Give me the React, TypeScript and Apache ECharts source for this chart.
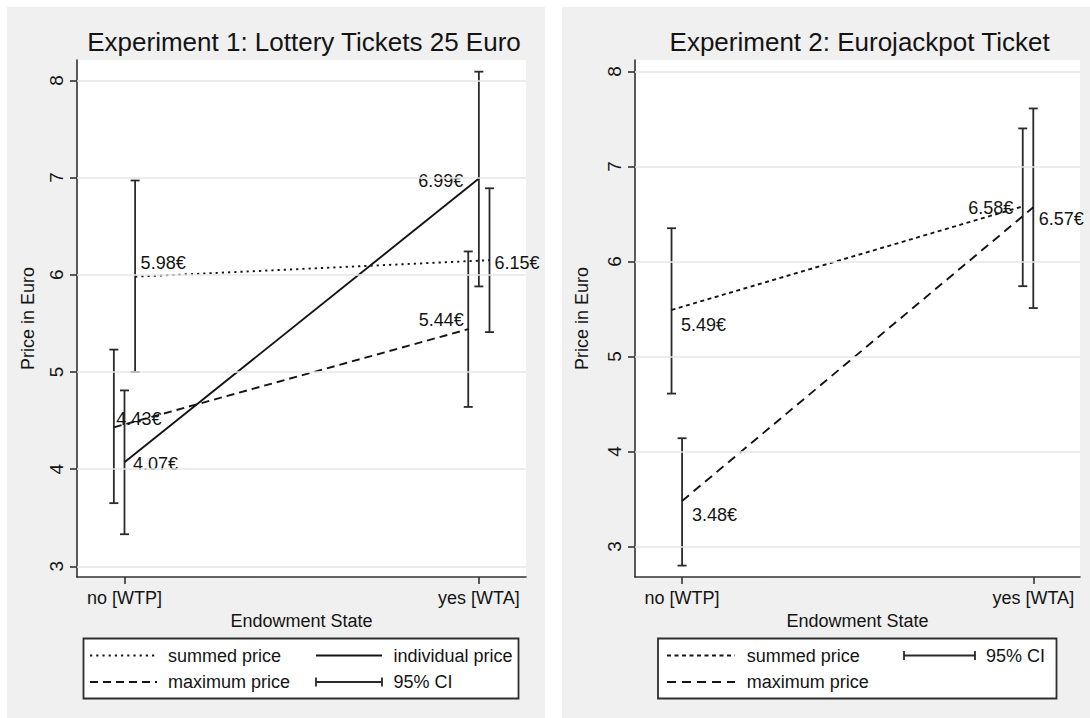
import React, { useEffect, useRef } from 'react';
import * as echarts from 'echarts';

// Endowment states on the x axis
const CATEGORIES = ['no [WTP]', 'yes [WTA]'];
const Y_TICKS = [3, 4, 5, 6, 7, 8];

// Experiment 1: Lottery Tickets 25 Euro (mean prices and 95% CI [low, high])
const EXP1_SUMMED = [5.98, 6.15];
const EXP1_INDIVIDUAL = [4.07, 6.99];
const EXP1_MAXIMUM = [4.43, 5.44];
const EXP1_SUMMED_CI = [[5.0, 6.97], [5.41, 6.89]];
const EXP1_INDIVIDUAL_CI = [[3.33, 4.81], [5.88, 8.09]];
const EXP1_MAXIMUM_CI = [[3.65, 5.23], [4.64, 6.24]];

// Experiment 2: Eurojackpot Ticket
const EXP2_SUMMED = [5.49, 6.58];
const EXP2_MAXIMUM = [3.48, 6.57];
const EXP2_SUMMED_CI = [[4.61, 6.35], [5.74, 7.4]];
const EXP2_MAXIMUM_CI = [[2.8, 4.14], [5.51, 7.61]];

const FONT = '"Liberation Sans", Arial, Helvetica, sans-serif';
const INK = '#141414';
const AXIS_INK = '#333333';
const BAR_INK = '#2a2a2a';
const PANEL = '#f0f0f0';

type Place = { position: 'left' | 'right'; distance: number; dy: number };

// horizontal nudge (in x units) so the bars of a state don't overlap
const SHIFT = 0.03;

function meanSeries(
  name: string,
  values: number[],
  idx: number,
  shift: number,
  dash: any,
  places: Place[]
) {
  return {
    type: 'line',
    name,
    xAxisIndex: idx,
    yAxisIndex: idx,
    data: values.map((v, i) => ({
      value: [i + shift, v],
      label: {
        position: places[i].position,
        distance: places[i].distance,
        offset: [0, places[i].dy],
      },
    })),
    symbol: 'circle',
    symbolSize: 1,
    itemStyle: { color: 'rgba(0,0,0,0)' },
    lineStyle: { color: INK, width: 1.9, type: dash },
    label: {
      show: true,
      formatter: (p: any) => p.value[1].toFixed(2) + '€',
      fontFamily: FONT,
      fontSize: 18,
      color: INK,
    },
    silent: true,
    z: 3,
  };
}

function ciSeries(intervals: number[][], idx: number, shift: number) {
  return {
    type: 'custom',
    xAxisIndex: idx,
    yAxisIndex: idx,
    data: intervals.map((c, i) => [i + shift, c[0], c[1]]),
    encode: { x: 0, y: [1, 2] },
    silent: true,
    z: 2,
    renderItem: (_params: any, api: any) => {
      const x = api.value(0);
      const lo = api.coord([x, api.value(1)]);
      const hi = api.coord([x, api.value(2)]);
      const half = 4.5;
      const style = { stroke: BAR_INK, lineWidth: 1.8 };
      return {
        type: 'group',
        children: [
          { type: 'line', shape: { x1: lo[0], y1: lo[1], x2: hi[0], y2: hi[1] }, style },
          { type: 'line', shape: { x1: lo[0] - half, y1: lo[1], x2: lo[0] + half, y2: lo[1] }, style },
          { type: 'line', shape: { x1: hi[0] - half, y1: hi[1], x2: hi[0] + half, y2: hi[1] }, style },
        ],
      };
    },
  };
}

function gridLines(idx: number) {
  return {
    type: 'line',
    xAxisIndex: idx,
    yAxisIndex: idx,
    data: [],
    silent: true,
    z: 1,
    markLine: {
      silent: true,
      symbol: 'none',
      label: { show: false },
      lineStyle: { color: '#e6e6e6', width: 1.5, type: 'solid' },
      data: Y_TICKS.map((v) => ({ yAxis: v })),
    },
  };
}

const axisLineStyle = { color: AXIS_INK, width: 1.6 };

function xAxis(idx: number) {
  return {
    gridIndex: idx,
    type: 'value',
    min: -0.134,
    max: 1.133,
    axisLine: { show: true, onZero: false, lineStyle: axisLineStyle },
    axisTick: { show: true, customValues: [0, 1], length: 7, lineStyle: axisLineStyle },
    axisLabel: {
      customValues: [0, 1],
      formatter: (v: number) => CATEGORIES[Math.round(v)] ?? '',
      fontFamily: FONT,
      fontSize: 18,
      color: INK,
      margin: 12,
    },
    splitLine: { show: false },
    name: 'Endowment State',
    nameLocation: 'middle',
    nameGap: 31,
    nameTextStyle: { fontFamily: FONT, fontSize: 18, color: INK },
  };
}

function yAxis(idx: number, min: number, max: number, nameGap: number) {
  return {
    gridIndex: idx,
    type: 'value',
    min,
    max,
    axisLine: { show: true, onZero: false, lineStyle: axisLineStyle },
    axisTick: { show: true, customValues: Y_TICKS, length: 7, lineStyle: axisLineStyle },
    axisLabel: {
      customValues: Y_TICKS,
      rotate: 90,
      fontFamily: FONT,
      fontSize: 19,
      color: INK,
      margin: 11,
    },
    splitLine: { show: false },
    name: 'Price in Euro',
    nameLocation: 'middle',
    nameRotate: 90,
    nameGap,
    nameTextStyle: { fontFamily: FONT, fontSize: 18, color: INK },
  };
}

function text(x: number, y: number, t: string, size = 18) {
  return {
    type: 'text',
    x,
    y,
    style: {
      text: t,
      font: `${size}px ${FONT}`,
      fill: INK,
      align: 'left',
      verticalAlign: 'middle',
    },
  };
}

function titleText(x: number, y: number, t: string) {
  return {
    type: 'text',
    x,
    y,
    style: {
      text: t,
      font: `26px ${FONT}`,
      fill: INK,
      align: 'center',
      verticalAlign: 'middle',
    },
  };
}

function sample(x1: number, x2: number, y: number, dash: number[] | null) {
  return {
    type: 'line',
    shape: { x1, y1: y, x2, y2: y },
    style: { stroke: INK, lineWidth: 1.8, lineDash: dash ?? undefined },
  };
}

function ciSample(x1: number, x2: number, y: number) {
  const style = { stroke: BAR_INK, lineWidth: 1.8 };
  return {
    type: 'group',
    children: [
      { type: 'line', shape: { x1, y1: y, x2, y2: y }, style },
      { type: 'line', shape: { x1, y1: y - 4.5, x2: x1, y2: y + 4.5 }, style },
      { type: 'line', shape: { x1: x2, y1: y - 4.5, x2, y2: y + 4.5 }, style },
    ],
  };
}

const boxStyle = { fill: '#ffffff', stroke: '#2e2e2e', lineWidth: 1.8 };

export default function App() {
  const ref = useRef<HTMLDivElement>(null);

  useEffect(() => {
    if (!ref.current) return;
    const chart = echarts.init(ref.current, undefined, { renderer: 'svg' });

    const dotted = [2.2, 4];
    const dashedL = [8, 5];
    const shortDash = [4, 3.5];
    const longDash = [9, 6];

    chart.setOption({
      animation: false,
      backgroundColor: '#ffffff',
      grid: [
        { left: 77, top: 60, width: 449, height: 517, show: true, backgroundColor: '#ffffff', borderWidth: 0, containLabel: false, outerBoundsMode: 'none' },
        { left: 635, top: 60, width: 445, height: 517, show: true, backgroundColor: '#ffffff', borderWidth: 0, containLabel: false, outerBoundsMode: 'none' },
      ],
      xAxis: [xAxis(0), xAxis(1)],
      yAxis: [yAxis(0, 2.89, 8.21, 40), yAxis(1, 2.68, 8.12, 44)],
      series: [
        gridLines(0),
        gridLines(1),
        ciSeries(EXP1_MAXIMUM_CI, 0, -SHIFT),
        ciSeries(EXP1_INDIVIDUAL_CI, 0, 0),
        ciSeries(EXP1_SUMMED_CI, 0, SHIFT),
        meanSeries('summed price', EXP1_SUMMED, 0, SHIFT, dotted, [
          { position: 'right', distance: 5, dy: -13.5 },
          { position: 'right', distance: 4.5, dy: 2.5 },
        ]),
        meanSeries('individual price', EXP1_INDIVIDUAL, 0, 0, 'solid', [
          { position: 'right', distance: 8, dy: 2 },
          { position: 'left', distance: 15, dy: 2 },
        ]),
        meanSeries('maximum price', EXP1_MAXIMUM, 0, -SHIFT, dashedL, [
          { position: 'right', distance: 2, dy: -8.7 },
          { position: 'left', distance: 4, dy: -9 },
        ]),
        ciSeries(EXP2_SUMMED_CI, 1, -SHIFT),
        ciSeries(EXP2_MAXIMUM_CI, 1, 0),
        meanSeries('summed price', EXP2_SUMMED, 1, -SHIFT, shortDash, [
          { position: 'right', distance: 9, dy: 15 },
          { position: 'left', distance: 9, dy: 1.6 },
        ]),
        meanSeries('maximum price', EXP2_MAXIMUM, 1, 0, longDash, [
          { position: 'right', distance: 9.4, dy: 14.4 },
          { position: 'right', distance: 5, dy: 12 },
        ]),
      ],
      graphic: [
        { type: 'rect', z: -100, shape: { x: 7, y: 7, width: 538, height: 711 }, style: { fill: PANEL } },
        { type: 'rect', z: -100, shape: { x: 562, y: 7, width: 528, height: 711 }, style: { fill: PANEL } },
        titleText(304, 42, 'Experiment 1: Lottery Tickets 25 Euro'),
        titleText(859.6, 42, 'Experiment 2: Eurojackpot Ticket'),
        // legend, experiment 1
        { type: 'rect', shape: { x: 83.5, y: 638.5, width: 435, height: 60 }, style: boxStyle },
        sample(90, 157, 655.5, dotted),
        text(168, 655.5, 'summed price'),
        sample(316, 382, 655.5, null),
        text(393.5, 655.5, 'individual price'),
        sample(90, 157, 682, dashedL),
        text(168, 682, 'maximum price'),
        ciSample(316, 382, 682),
        text(393.5, 682, '95% CI'),
        // legend, experiment 2
        { type: 'rect', shape: { x: 658, y: 638.5, width: 398.5, height: 60 }, style: boxStyle },
        sample(667, 735, 655.5, shortDash),
        text(746.7, 655.5, 'summed price'),
        ciSample(904, 975, 655.5),
        text(986, 655.5, '95% CI'),
        sample(667, 735, 682, longDash),
        text(746.7, 682, 'maximum price'),
      ],
    });

    return () => chart.dispose();
  }, []);

  return (
    <div
      ref={ref}
      style={{ position: 'fixed', left: 0, top: 0, width: 1090, height: 718 }}
    />
  );
}
